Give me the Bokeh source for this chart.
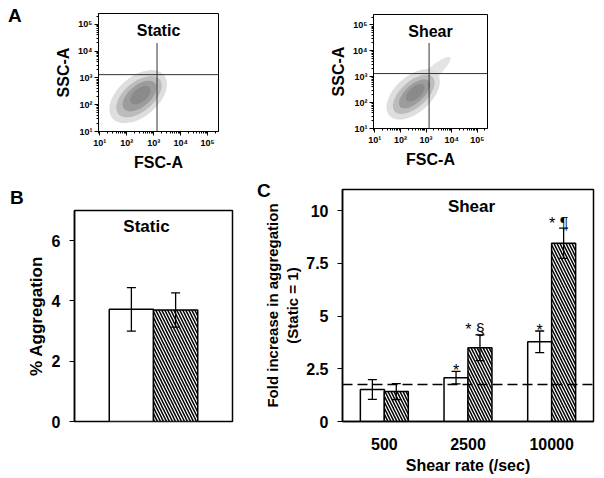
import math
from bokeh.plotting import figure
from bokeh.layouts import column, row
from bokeh.models import ColumnDataSource, FixedTicker, Label, Span, FactorRange, Div
from bokeh.transform import dodge
from bokeh.embed import file_html
from bokeh.resources import INLINE
from bokeh.core.properties import value

FONT = "Liberation Sans"

# ---------------- Panel A: flow cytometry (log10 units) ----------------
decades = [1, 2, 3, 4, 5]
decade_labels = ["10\u00b9", "10\u00b2", "10\u00b3", "10\u2074", "10\u2075"]
gate_fsc = 3.12      # log10 FSC gate
gate_ssc = 3.12      # log10 SSC gate
gate_top = 4.3       # vertical gate line upper end (log10)

# density layers of the event clouds (log10 centre, extent, tilt)
static_cx = [2.42, 2.45, 2.47, 2.50]
static_cy = [2.30, 2.30, 2.32, 2.36]
static_w = [2.5, 2.0, 1.5, 0.9]
static_h = [1.5, 1.1, 0.8, 0.5]
static_ang = [40, 40, 40, 40]

shear_cx = [3.05, 2.50, 2.52, 2.55, 2.58]
shear_cy = [2.95, 2.32, 2.32, 2.34, 2.38]
shear_w = [2.4, 2.5, 2.0, 1.5, 0.9]
shear_h = [0.5, 1.4, 1.0, 0.7, 0.45]
shear_ang = [42, 42, 42, 42, 42]

cloud_colors = ["#dedede", "#bcbcbc", "#9c9c9c", "#8a8a8a"]
shear_colors = ["#e4e4e4", "#dedede", "#bcbcbc", "#9c9c9c", "#8a8a8a"]

# ---------------- Panel B ----------------
groups_b = ["Static"]
b_plain = [3.72]
b_plain_err = [0.72]
b_hatch = [3.70]
b_hatch_err = [0.57]
b_ticks = [0, 2, 4, 6]

# ---------------- Panel C ----------------
shear_rates = ["500", "2500", "10000"]
c_plain = [1.52, 2.08, 3.78]
c_plain_err = [0.47, 0.30, 0.51]
c_hatch = [1.42, 3.50, 8.45]
c_hatch_err = [0.38, 0.61, 0.72]
c_plain_sig = ["", "*", "*"]
c_hatch_sig = ["", "* \u00a7", "* \u00b6"]
static_threshold = 1.75
c_ticks = [0, 2.5, 5, 7.5, 10]
c_tick_labels = ["0", "2.5", "5", "7.5", "10"]


def style_axes(p, lw=1.0):
    p.grid.visible = False
    p.outline_line_color = "black"
    p.outline_line_width = lw
    p.background_fill_color = "white"
    p.border_fill_color = None
    for ax in p.axis:
        ax.axis_line_color = "black"
        ax.axis_line_width = lw
        ax.major_tick_line_color = "black"
        ax.minor_tick_line_color = "black"
        ax.major_label_text_font = FONT
        ax.major_label_text_font_style = "bold"
        ax.major_label_text_color = "black"
        ax.axis_label_text_font = FONT
        ax.axis_label_text_font_style = "bold"
        ax.axis_label_text_color = "black"


def flow_fig(width, height, left, right, top, bottom, margin, title, fh, fw,
             cx, cy, cw, ch, ca, colors):
    p = figure(width=width, height=height, x_range=(0.95, 5.4), y_range=(1.0, 5.4),
               output_backend="svg", toolbar_location=None, margin=margin,
               min_border_left=left, min_border_right=right,
               min_border_top=top, min_border_bottom=bottom)
    style_axes(p, 1.0)
    minors = [n + math.log10(k) for n in range(0, 6) for k in range(2, 10)]
    overrides = {d: lab for d, lab in zip(decades, decade_labels)}
    for ax in (p.xaxis[0], p.yaxis[0]):
        ax.ticker = FixedTicker(ticks=decades, minor_ticks=minors)
        ax.major_label_overrides = overrides
        ax.major_label_text_font_size = "9px"
        ax.major_tick_out = 4
        ax.major_tick_in = 0
        ax.minor_tick_out = 2
        ax.minor_tick_in = 0
        ax.major_label_standoff = 2
        ax.axis_label_text_font_size = "16px"
        ax.axis_label_standoff = 3
    p.xaxis.axis_label = "FSC-A"
    p.yaxis.axis_label = "SSC-A"
    src = ColumnDataSource(dict(x=cx, y=cy, w=cw, h=ch, a=ca, c=colors))
    p.ellipse(x="x", y="y", width="w", height="h", angle="a", angle_units="deg",
              fill_color="c", line_color=None, source=src)
    p.segment(x0=[0.95], y0=[gate_ssc], x1=[5.4], y1=[gate_ssc], line_color="#333333", line_width=1)
    p.segment(x0=[gate_fsc], y0=[1.0], x1=[gate_fsc], y1=[gate_top], line_color="#333333", line_width=1)
    p.add_layout(Label(x=fw / 2, y=fh - 8, x_units="screen", y_units="screen", text=title,
                       text_align="center", text_baseline="top", text_font=FONT,
                       text_font_style="bold", text_font_size="16px", text_color="black"))
    return p


def letter(txt, x_margin_left, width_used, top):
    html = ("<div style=\"font-family:'Liberation Sans';font-size:19px;font-weight:bold;"
            "color:black;line-height:22px\">%s</div>" % txt)
    return Div(text=html, width=16, height=22,
               margin=(top, width_used - 16 - x_margin_left, 0, x_margin_left))


# top row: A1 occupies 0..300, A2 300..604
a1 = flow_fig(300, 184, 98, 82, 14, 52, (-1, 0, -3, 0), "Static", 118, 120,
              static_cx, static_cy, static_w, static_h, static_ang, cloud_colors)
a2 = flow_fig(304, 180, 73, 117, 14, 52, (0, 0, 0, 0), "Shear", 114, 114,
              shear_cx, shear_cy, shear_w, shear_h, shear_ang, shear_colors)
divA = letter("A", -292, 0, 5)

# ---------------- Panel B figure ----------------
b = figure(width=250, height=277, x_range=FactorRange(factors=groups_b), y_range=(0, 7),
           output_backend="svg", toolbar_location=None, margin=(21, 0, 0, 0),
           min_border_left=74, min_border_right=18, min_border_top=9, min_border_bottom=57)
style_axes(b, 1.5)
b.xaxis.visible = False
b.yaxis.ticker = FixedTicker(ticks=b_ticks)
b.yaxis.major_label_text_font_size = "16px"
b.yaxis.major_tick_out = 5
b.yaxis.major_tick_in = 0
b.yaxis.major_label_standoff = 9
b.yaxis.axis_label = "% Aggregation"
b.yaxis.axis_label_text_font_size = "17px"
b.yaxis.axis_label_standoff = 3

bsrc = ColumnDataSource(dict(g=groups_b, p=b_plain, h=b_hatch,
                             pu=[v + e for v, e in zip(b_plain, b_plain_err)],
                             pl=[v - e for v, e in zip(b_plain, b_plain_err)],
                             hu=[v + e for v, e in zip(b_hatch, b_hatch_err)],
                             hl=[v - e for v, e in zip(b_hatch, b_hatch_err)]))
b.vbar(x=dodge("g", -0.14, range=b.x_range), top="p", width=0.28, fill_color="white",
       line_color="black", line_width=1.5, source=bsrc)
b.vbar(x=dodge("g", 0.14, range=b.x_range), top="h", width=0.28, fill_color="white",
       hatch_pattern="\\", hatch_color="black", hatch_weight=1.5, hatch_scale=6,
       line_color="black", line_width=1.5, source=bsrc)
for off, up, lo in ((-0.14, "pu", "pl"), (0.14, "hu", "hl")):
    xx = dodge("g", off, range=b.x_range)
    b.segment(x0=xx, y0=lo, x1=xx, y1=up, line_color="black", line_width=1.3, source=bsrc)
    b.scatter(x=xx, y=up, marker="dash", size=9, line_color="black", line_width=1.3, source=bsrc)
    b.scatter(x=xx, y=lo, marker="dash", size=9, line_color="black", line_width=1.3, source=bsrc)
b.add_layout(Label(x=72, y=205, x_units="screen", y_units="screen", text="Static",
                   text_align="center", text_baseline="top", text_font=FONT,
                   text_font_style="bold", text_font_size="17px", text_color="black"))
divB = letter("B", -240, 0, 7)

# ---------------- Panel C figure ----------------
c = figure(width=354, height=298, x_range=FactorRange(factors=shear_rates), y_range=(0, 11),
           output_backend="svg", toolbar_location=None,
           min_border_left=92, min_border_right=11, min_border_top=9, min_border_bottom=57)
style_axes(c, 1.5)
c.yaxis.ticker = FixedTicker(ticks=c_ticks)
c.yaxis.major_label_overrides = {t: s for t, s in zip(c_ticks, c_tick_labels)}
c.yaxis.major_label_text_font_size = "16px"
c.yaxis.major_tick_out = 5
c.yaxis.major_tick_in = 0
c.yaxis.major_label_standoff = 9
c.yaxis.axis_label = "Fold increase in aggregation\n(Static = 1)"
c.yaxis.axis_label_text_font_size = "15px"
c.yaxis.axis_label_standoff = 2
c.xaxis.major_label_text_font_size = "16px"
c.xaxis.major_tick_line_color = None
c.xaxis.major_label_standoff = 10
c.xaxis.axis_label = "Shear rate (/sec)"
c.xaxis.axis_label_text_font_size = "16px"
c.xaxis.axis_label_standoff = 4

csrc = ColumnDataSource(dict(g=shear_rates, p=c_plain, h=c_hatch,
                             pu=[v + e for v, e in zip(c_plain, c_plain_err)],
                             pl=[v - e for v, e in zip(c_plain, c_plain_err)],
                             hu=[v + e for v, e in zip(c_hatch, c_hatch_err)],
                             hl=[v - e for v, e in zip(c_hatch, c_hatch_err)]))
c.vbar(x=dodge("g", -0.143, range=c.x_range), top="p", width=0.287, fill_color="white",
       line_color="black", line_width=1.5, source=csrc)
c.vbar(x=dodge("g", 0.143, range=c.x_range), top="h", width=0.287, fill_color="white",
       hatch_pattern="\\", hatch_color="black", hatch_weight=1.5, hatch_scale=6,
       line_color="black", line_width=1.5, source=csrc)
c.add_layout(Span(location=static_threshold, dimension="width", line_color="black",
                  line_width=1.5, line_dash="10 5"))
for off, up, lo in ((-0.143, "pu", "pl"), (0.143, "hu", "hl")):
    xx = dodge("g", off, range=c.x_range)
    c.segment(x0=xx, y0=lo, x1=xx, y1=up, line_color="black", line_width=1.3, source=csrc)
    c.scatter(x=xx, y=up, marker="dash", size=9, line_color="black", line_width=1.3, source=csrc)
    c.scatter(x=xx, y=lo, marker="dash", size=9, line_color="black", line_width=1.3, source=csrc)

# significance marks (only where the reference shows one)
for off, vals, errs, sigs, dx, dy in ((-0.143, c_plain, c_plain_err, c_plain_sig, 0, -1),
                                      (0.143, c_hatch, c_hatch_err, c_hatch_sig, -5, -5)):
    keep = [i for i, s in enumerate(sigs) if s]
    ssrc = ColumnDataSource(dict(g=[shear_rates[i] for i in keep],
                                 y=[vals[i] + errs[i] for i in keep],
                                 t=[sigs[i] for i in keep]))
    c.text(x=dodge("g", off, range=c.x_range), y="y", text="t", text_align="center",
           text_baseline="alphabetic", x_offset=dx, y_offset=dy, text_font=value(FONT),
           text_font_size="16px", text_color="black", source=ssrc)

c.add_layout(Label(x=129, y=225, x_units="screen", y_units="screen", text="Shear",
                   text_align="center", text_baseline="top", text_font=FONT,
                   text_font_style="bold", text_font_size="17px", text_color="black"))
divC = letter("C", -347, 0, 0)

layout = column(row(a1, divA, a2), row(b, divB, c, divC))
with open("out.html", "w") as f:
    f.write(file_html(layout, INLINE))
